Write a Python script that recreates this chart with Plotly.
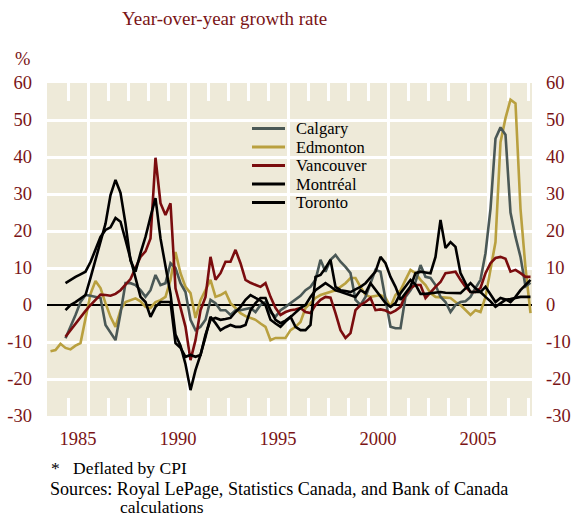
import plotly.graph_objects as go

# Quarterly observations, first quarter of 1984 onward
start_year = 1984.125
n_quarters = 97
quarters = [start_year + 0.25 * i for i in range(n_quarters)]

calgary = [None, None, None, -9.0, -6.0, -2.7, 0.8, 2.7, 2.5, 2.2,
           1.9, -5.4, -7.3, -9.5, -2.2, 5.9, 5.9, 5.4, 4.0, 2.2,
           4.0, 8.1, 5.4, 5.9, 11.3, 10.0, 5.9, 3.5, -4.0, -6.8,
           -5.9, -4.0, 1.4, 0.5, -1.4, -1.4, -2.7, -1.4, -1.4, -1.0,
           -0.8, -1.9, 0.0, 0.8, -2.0, -3.2, -1.4, -0.5, 0.5, 1.4,
           2.5, 4.0, 4.9, 6.8, 12.2, 9.0, 12.2, 13.5, 11.7, 10.3,
           8.6, 1.4, 0.0, 2.2, 6.0, 9.5, 9.0, 2.0, -5.9, -6.3,
           -6.3, 2.2, 4.0, 6.2, 10.8, 7.6, 7.3, 5.4, 2.2, 0.8,
           -1.9, 0.0, 0.8, 1.0, 2.2, 4.6, 6.8, 14.0, 26.0, 45.0,
           48.0, 46.0, 25.0, 18.4, 13.0, 5.0, 6.0]

edmonton = [-12.5, -12.2, -10.5, -11.6, -12.0, -11.0, -10.3, -4.0, 3.0, 6.5,
            4.6, 0.5, -3.2, -5.9, -1.4, 0.8, 1.4, 1.8, 1.0, -0.5,
            -0.8, 0.8, 1.3, 2.2, 6.8, 14.3, 8.6, 4.9, 3.2, -3.5,
            1.3, 4.0, 6.8, 2.2, 2.7, 3.5, 0.5, -0.8, -2.2, -3.0,
            -3.5, -4.0, -5.0, -5.9, -9.5, -8.9, -8.9, -8.9, -6.8, -5.9,
            -4.6, -0.8, 0.5, 1.9, 2.7, 3.2, 3.5, 4.0, 4.9, 5.9,
            7.3, 7.3, 4.9, 2.7, 2.2, 2.5, 2.7, 2.0, -0.5, 2.7,
            4.0, 6.8, 9.5, 8.6, 6.8, 5.4, 3.2, 2.2, 2.0, 2.0,
            1.9, 0.8, 0.0, -1.4, -2.7, -1.4, -1.9, 2.2, 9.5, 17.0,
            44.0, 50.5, 55.5, 54.5, 26.0, 10.0, -2.2]

vancouver = [None, None, None, -8.6, -6.8, -5.0, -3.2, -1.6, 0.0, 1.5,
             2.8, 2.7, 2.5, 3.0, 4.0, 5.5, 7.0, 10.0, 13.0, 14.5,
             18.0, 39.8, 27.5, 24.3, 27.5, 4.5, -0.5, -5.9, -14.9, -9.5,
             -1.4, 2.2, 13.0, 6.8, 8.6, 11.7, 11.7, 14.9, 11.3, 6.8,
             6.0, 5.4, 4.9, 5.9, 2.2, -0.8, -2.7, -1.9, -1.4, -1.2,
             -0.8, -1.9, -2.2, 0.0, 1.4, 2.2, 2.0, -2.2, -6.8, -8.9,
             -7.6, -1.4, 0.0, 0.8, 1.9, -1.4, -1.2, -1.5, -2.2, -1.5,
             -0.5, 2.7, 4.6, 5.4, 5.4, 1.9, 3.5, 4.9, 6.2, 8.6,
             8.8, 9.0, 6.8, 4.9, 3.5, 3.5, 4.6, 8.6, 11.3, 12.7,
             13.0, 12.5, 9.0, 9.5, 8.6, 7.6, 7.6]

montreal = [None, None, None, 5.9, 6.8, 7.6, 8.3, 9.0, 11.6, 14.9,
            18.4, 20.3, 21.0, 23.5, 22.5, 17.6, 12.2, 6.8, 2.2, 0.8,
            -3.2, -0.5, 0.8, 0.8, 0.8, -10.3, -11.6, -14.0, -13.5, -14.0,
            -13.5, -8.0, -4.0, -3.5, -4.0, -3.8, -3.5, -1.9, -0.5, 1.4,
            2.7, 1.9, 1.2, 0.0, -4.0, -5.0, -5.9, -4.5, -3.2, -1.9,
            -0.8, 0.0, 2.2, 4.0, 4.9, 5.9, 5.0, 4.0, 3.6, 3.2,
            2.7, 2.2, 4.0, 3.2, 5.9, 4.0, 2.2, 0.5, -0.5, 0.5,
            3.2, 4.9, 6.8, 5.5, 3.0, 3.0, 3.2, 3.5, 3.5, 3.3,
            3.2, 3.2, 3.2, 4.5, 5.9, 4.5, 3.5, 2.2, 1.0, -0.5,
            0.5, 1.4, 1.6, 1.9, 2.2, 2.2, 2.2]

toronto = [None, None, None, -1.4, 0.0, 0.8, 1.8, 2.7, 7.3, 12.2,
           16.8, 22.0, 29.7, 33.8, 30.3, 22.0, 12.0, 9.0, 14.0, 18.4,
           23.8, 28.9, 18.0, 10.0, 3.0, -8.0, -11.0, -16.0, -23.0, -17.6,
           -13.5, -8.6, -3.2, -4.9, -6.8, -6.0, -5.4, -5.9, -5.9, -5.4,
           -1.4, 0.5, 1.9, 1.9, -1.4, -4.0, -4.9, -4.2, -3.2, -5.9,
           -6.8, -6.8, -5.4, 7.6, 8.1, 10.0, 12.2, 4.9, 4.0, 3.8,
           3.5, 4.2, 4.9, 5.9, 7.6, 9.0, 13.0, 11.3, 7.6, 4.9,
           1.4, 3.2, 5.0, 8.6, 9.0, 8.8, 8.6, 13.0, 23.0, 15.4,
           17.0, 15.7, 8.6, 5.9, 3.5, 3.5, 3.5, 4.9, 2.7, 0.8,
           1.9, 1.5, 0.8, 2.2, 4.0, 5.4, 6.8]

year_ticks = list(range(1985, 2009))
label_years = ["1985", "1990", "1995", "2000", "2005"]
label_pos = [1985.5, 1990.5, 1995.5, 2000.5, 2005.5]
y_vals = [-30, -20, -10, 0, 10, 20, 30, 40, 50, 60]
y_text = ["-30", "-20", "-10", "0", "10", "20", "30", "40", "50", "60"]

legend_names = ["Calgary", "Edmonton", "Vancouver", "Montréal", "Toronto"]
series = [
    ("Edmonton", edmonton, "#B9A03F"),
    ("Calgary", calgary, "#4A5856"),
    ("Vancouver", vancouver, "#7A0C0E"),
    ("Montréal", montreal, "#000000"),
    ("Toronto", toronto, "#000000"),
]
colors = {n: c for n, _, c in series}

DARKRED = "#7A1416"
FONT = "Liberation Serif"
BG = "#EEEAD9"

W, H = 571, 516

fig = go.Figure()
for name, vals, col in series:
    fig.add_trace(go.Scatter(x=quarters, y=vals, mode="lines", name=name,
                             line=dict(color=col, width=2.6),
                             showlegend=False, connectgaps=False))

fig.update_layout(
    width=W, height=H,
    margin=dict(l=47, r=39, t=83, b=100, autoexpand=False),
    plot_bgcolor=BG, paper_bgcolor="white",
    font=dict(family=FONT, color="black"),
    showlegend=False,
    xaxis=dict(range=[1983.95, 2008.2], tickvals=year_ticks, ticks="inside",
               ticklen=18, tickwidth=3, tickcolor="white", mirror="ticks",
               showline=False, showticklabels=False, showgrid=False, zeroline=False,
               layer="below traces",
               minor=dict(tick0=1986, dtick=5, showgrid=True, gridcolor="white",
                          gridwidth=3, ticks="")),
    xaxis2=dict(overlaying="x", matches="x", side="bottom", anchor="y",
                tickvals=label_pos, ticktext=label_years, ticks="",
                showgrid=False, zeroline=False, showline=False,
                tickfont=dict(size=18.5, color=DARKRED, family=FONT),
                ticklabelstandoff=9),
    yaxis=dict(range=[-30, 60], tickvals=y_vals, ticktext=y_text, ticks="",
               showgrid=True, gridcolor="white", gridwidth=3,
               zeroline=True, zerolinecolor="black", zerolinewidth=2.5,
               tickfont=dict(size=18.5, color=DARKRED, family=FONT),
               ticklabelstandoff=14, layer="below traces"),
    yaxis2=dict(range=[-30, 60], overlaying="y", matches="y", side="right",
                tickvals=y_vals, ticktext=y_text, ticks="",
                showgrid=False, zeroline=False,
                tickfont=dict(size=18.5, color=DARKRED, family=FONT),
                ticklabelstandoff=13),
)

# invisible helper trace so the secondary axes render
fig.add_trace(go.Scatter(x=[quarters[0]], y=[None], xaxis="x2", yaxis="y2",
                         showlegend=False, hoverinfo="skip"))


def px_x(p):
    return (p - 47) / 485.0


def px_y(p):
    return (416 - p) / 333.0


# Legend (drawn as keys + labels)
leg_y = [128.5, 147.0, 165.5, 184.0, 202.5]
for name, yy in zip(legend_names, leg_y):
    fig.add_shape(type="line", xref="paper", yref="paper",
                  x0=px_x(252), x1=px_x(285), y0=px_y(yy), y1=px_y(yy),
                  line=dict(color=colors[name], width=3))
    fig.add_annotation(xref="paper", yref="paper", showarrow=False,
                       text=name, x=px_x(294), y=px_y(yy), xanchor="left",
                       yanchor="middle", font=dict(size=16.5, color="black", family=FONT))

annots = [
    dict(text="Year-over-year growth rate", x=px_x(120), y=px_y(18), xanchor="left",
         yanchor="middle", font=dict(size=19, color=DARKRED, family=FONT)),
    dict(text="%", x=px_x(22), y=px_y(59), xanchor="center", yanchor="middle",
         font=dict(size=18.5, color=DARKRED, family=FONT)),
    dict(text="*", x=px_x(55), y=px_y(468), xanchor="center", yanchor="middle",
         font=dict(size=17.5, color="black", family=FONT)),
    dict(text="Deflated by CPI", x=px_x(71), y=px_y(468), xanchor="left", yanchor="middle",
         font=dict(size=17.5, color="black", family=FONT)),
    dict(text="Sources: Royal LePage, Statistics Canada, and Bank of Canada",
         x=px_x(48), y=px_y(489), xanchor="left", yanchor="middle",
         font=dict(size=18.1, color="black", family=FONT)),
    dict(text="calculations", x=px_x(118), y=px_y(507), xanchor="left", yanchor="middle",
         font=dict(size=17.5, color="black", family=FONT)),
]
for a in annots:
    fig.add_annotation(xref="paper", yref="paper", showarrow=False, **a)

fig.write_html("out.html",
               config={"displayModeBar": False, "staticPlot": True},
               post_script="document.body.style.margin='0px';"
                           "document.body.style.overflow='hidden';")
